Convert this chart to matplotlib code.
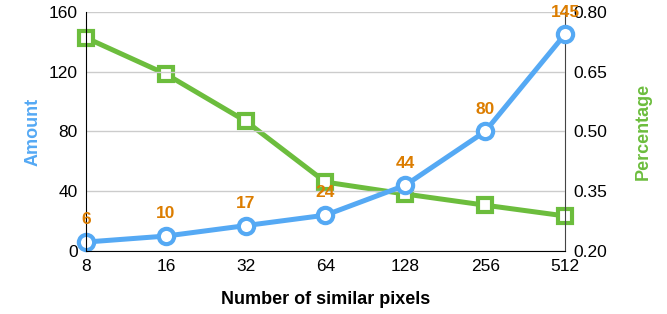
import matplotlib.pyplot as plt

plt.rcParams['font.family'] = ['Liberation Sans', 'DejaVu Sans']

pixels = ["8", "16", "32", "64", "128", "256", "512"]
amount = [6, 10, 17, 24, 44, 80, 145]
percentage = [0.735, 0.644, 0.526, 0.373, 0.343, 0.315, 0.288]

blue = "#55a9f4"
green = "#6cbd3d"
orange = "#dc7d00"

fig = plt.figure(figsize=(6.67, 3.14), dpi=100)
ax1 = fig.add_axes([0.129, 0.2006, 0.718, 0.7614])
ax2 = ax1.twinx()
ax1.set_zorder(ax2.get_zorder() + 1)
ax1.patch.set_visible(False)

x = list(range(len(pixels)))

ax2.plot(x, percentage, color=green, lw=3.6, marker="s", ms=9.5,
         mfc="white", mec=green, mew=3, clip_on=False)
ax1.plot(x, amount, color=blue, lw=3.6, marker="o", ms=11,
         mfc="white", mec=blue, mew=3, clip_on=False)

for xi, v in zip(x, amount):
    ax1.annotate(str(v), (xi, v), xytext=(0, 16), textcoords="offset points",
                 ha="center", va="center", color=orange, fontsize=12.5,
                 fontweight="bold", annotation_clip=False)

ax1.set_xlim(0, len(pixels) - 1)
ax1.set_ylim(0, 160)
ax1.set_yticks([0, 40, 80, 120, 160])
ax2.set_ylim(0.20, 0.80)
ax2.set_yticks([0.20, 0.35, 0.50, 0.65, 0.80])
ax2.set_yticklabels(["0.20", "0.35", "0.50", "0.65", "0.80"])
ax1.set_xticks(x)
ax1.set_xticklabels(pixels)

ax1.grid(axis="y", color="#cccccc", lw=1)
ax1.set_axisbelow(True)
ax2.grid(False)

for ax in (ax1, ax2):
    ax.spines["top"].set_visible(False)
    ax.tick_params(length=0, labelsize=12.5, pad=6)
ax2.spines["left"].set_visible(False)
ax2.spines["bottom"].set_visible(False)
ax1.spines["right"].set_visible(False)
ax2.spines["right"].set_color("#444444")
ax1.spines["left"].set_color("black")
ax1.spines["bottom"].set_color("black")

ax1.set_ylabel("Amount", color=blue, fontsize=13, fontweight="bold", labelpad=5)
ax2.set_ylabel("Percentage", color=green, fontsize=13, fontweight="bold", labelpad=20)
ax1.set_xlabel("Number of similar pixels", fontsize=13, fontweight="bold", labelpad=12)

fig.savefig("out.png", dpi=100)
